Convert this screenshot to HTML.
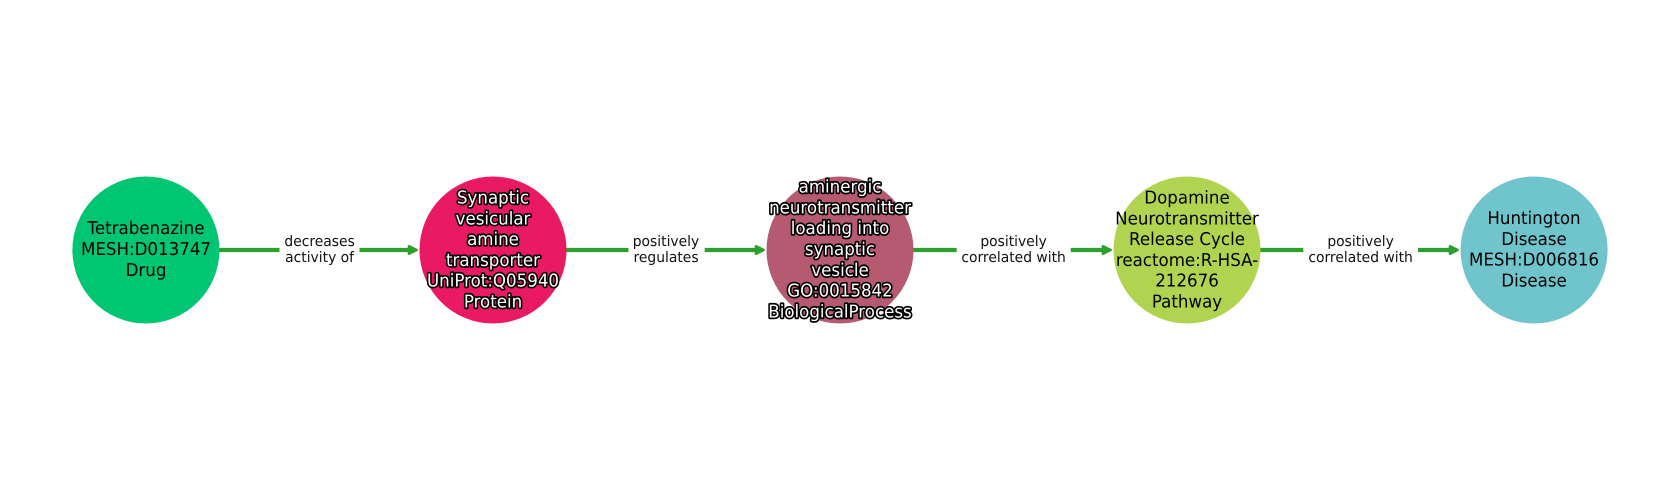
<!DOCTYPE html>
<html><head><meta charset="utf-8"><style>
html,body{margin:0;padding:0;background:#fff}
svg{display:block}
text{font-family:"DejaVu Sans",sans-serif;text-anchor:middle;text-rendering:geometricPrecision}
.n{font-size:16.67px;fill:#000}
.o{font-size:16.67px;fill:#fff;stroke:#000;stroke-width:3.2px;paint-order:stroke;stroke-linejoin:round}
.e{font-size:13.89px;fill:#111}
</style></head><body>
<svg width="1680" height="500" viewBox="0 0 1680 500" xmlns="http://www.w3.org/2000/svg">
<rect width="1680" height="500" fill="#fff"/>
<g stroke="#2ca02c" stroke-width="4.2" fill="#2ca02c" stroke-linejoin="round">
<path d="M219 250H279.5M359.5 250H410" fill="none"/><path d="M409 246.3L416.6 250L409 253.7Z" stroke-width="2.6"/>
<path d="M566 250H628.5M704.7 250H757" fill="none"/><path d="M756 246.3L763.6 250L756 253.7Z" stroke-width="2.6"/>
<path d="M913 250H956.7M1070.7 250H1104" fill="none"/><path d="M1103 246.3L1110.6 250L1103 253.7Z" stroke-width="2.6"/>
<path d="M1260 250H1303.3M1418 250H1451" fill="none"/><path d="M1450 246.3L1457.6 250L1450 253.7Z" stroke-width="2.6"/>
</g>
<circle cx="145.9" cy="250" r="73.5" fill="#00c673"/>
<circle cx="493" cy="250" r="73.5" fill="#e91a63"/>
<circle cx="840" cy="250" r="73.5" fill="#b55a70"/>
<circle cx="1187" cy="250" r="73.5" fill="#b0d44f"/>
<circle cx="1534.1" cy="250" r="73.5" fill="#70c5cc"/>
<text class="n" transform="translate(146 234) scale(1 1.06)">Tetrabenazine</text>
<text class="n" transform="translate(146 255) scale(1 1.06)">MESH:D013747</text>
<text class="n" transform="translate(146 276) scale(1 1.06)">Drug</text>
<text class="o" transform="translate(493 203.5) scale(1 1.06)">Synaptic</text>
<text class="o" transform="translate(493 224.3) scale(1 1.06)">vesicular</text>
<text class="o" transform="translate(493 245) scale(1 1.06)">amine</text>
<text class="o" transform="translate(493 265.8) scale(1 1.06)">transporter</text>
<text class="o" transform="translate(493 286.5) scale(1 1.06)">UniProt:Q05940</text>
<text class="o" transform="translate(493 307.3) scale(1 1.06)">Protein</text>
<text class="o" transform="translate(840 192.7) scale(1 1.06)">aminergic</text>
<text class="o" transform="translate(840 213.5) scale(1 1.06)">neurotransmitter</text>
<text class="o" transform="translate(840 234.2) scale(1 1.06)">loading into</text>
<text class="o" transform="translate(840 255) scale(1 1.06)">synaptic</text>
<text class="o" transform="translate(840 275.8) scale(1 1.06)">vesicle</text>
<text class="o" transform="translate(840 296.5) scale(1 1.06)">GO:0015842</text>
<text class="o" transform="translate(840 317.3) scale(1 1.06)">BiologicalProcess</text>
<text class="n" transform="translate(1187 203.5) scale(1 1.06)">Dopamine</text>
<text class="n" transform="translate(1187 224.3) scale(1 1.06)">Neurotransmitter</text>
<text class="n" transform="translate(1187 245) scale(1 1.06)">Release Cycle</text>
<text class="n" transform="translate(1187 265.8) scale(1 1.06)">reactome:R-HSA-</text>
<text class="n" transform="translate(1187 286.5) scale(1 1.06)">212676</text>
<text class="n" transform="translate(1187 307.3) scale(1 1.06)">Pathway</text>
<text class="n" transform="translate(1534 224) scale(1 1.06)">Huntington</text>
<text class="n" transform="translate(1534 244.8) scale(1 1.06)">Disease</text>
<text class="n" transform="translate(1534 265.5) scale(1 1.06)">MESH:D006816</text>
<text class="n" transform="translate(1534 286.3) scale(1 1.06)">Disease</text>
<text class="e" transform="translate(319.6 246) scale(1 1.04)">decreases</text>
<text class="e" transform="translate(319.6 262) scale(1 1.04)">activity of</text>
<text class="e" transform="translate(666 246) scale(1 1.04)">positively</text>
<text class="e" transform="translate(666 262) scale(1 1.04)">regulates</text>
<text class="e" transform="translate(1013.6 246) scale(1 1.04)">positively</text>
<text class="e" transform="translate(1013.6 262) scale(1 1.04)">correlated with</text>
<text class="e" transform="translate(1360.6 246) scale(1 1.04)">positively</text>
<text class="e" transform="translate(1360.6 262) scale(1 1.04)">correlated with</text>
</svg>
</body></html>
